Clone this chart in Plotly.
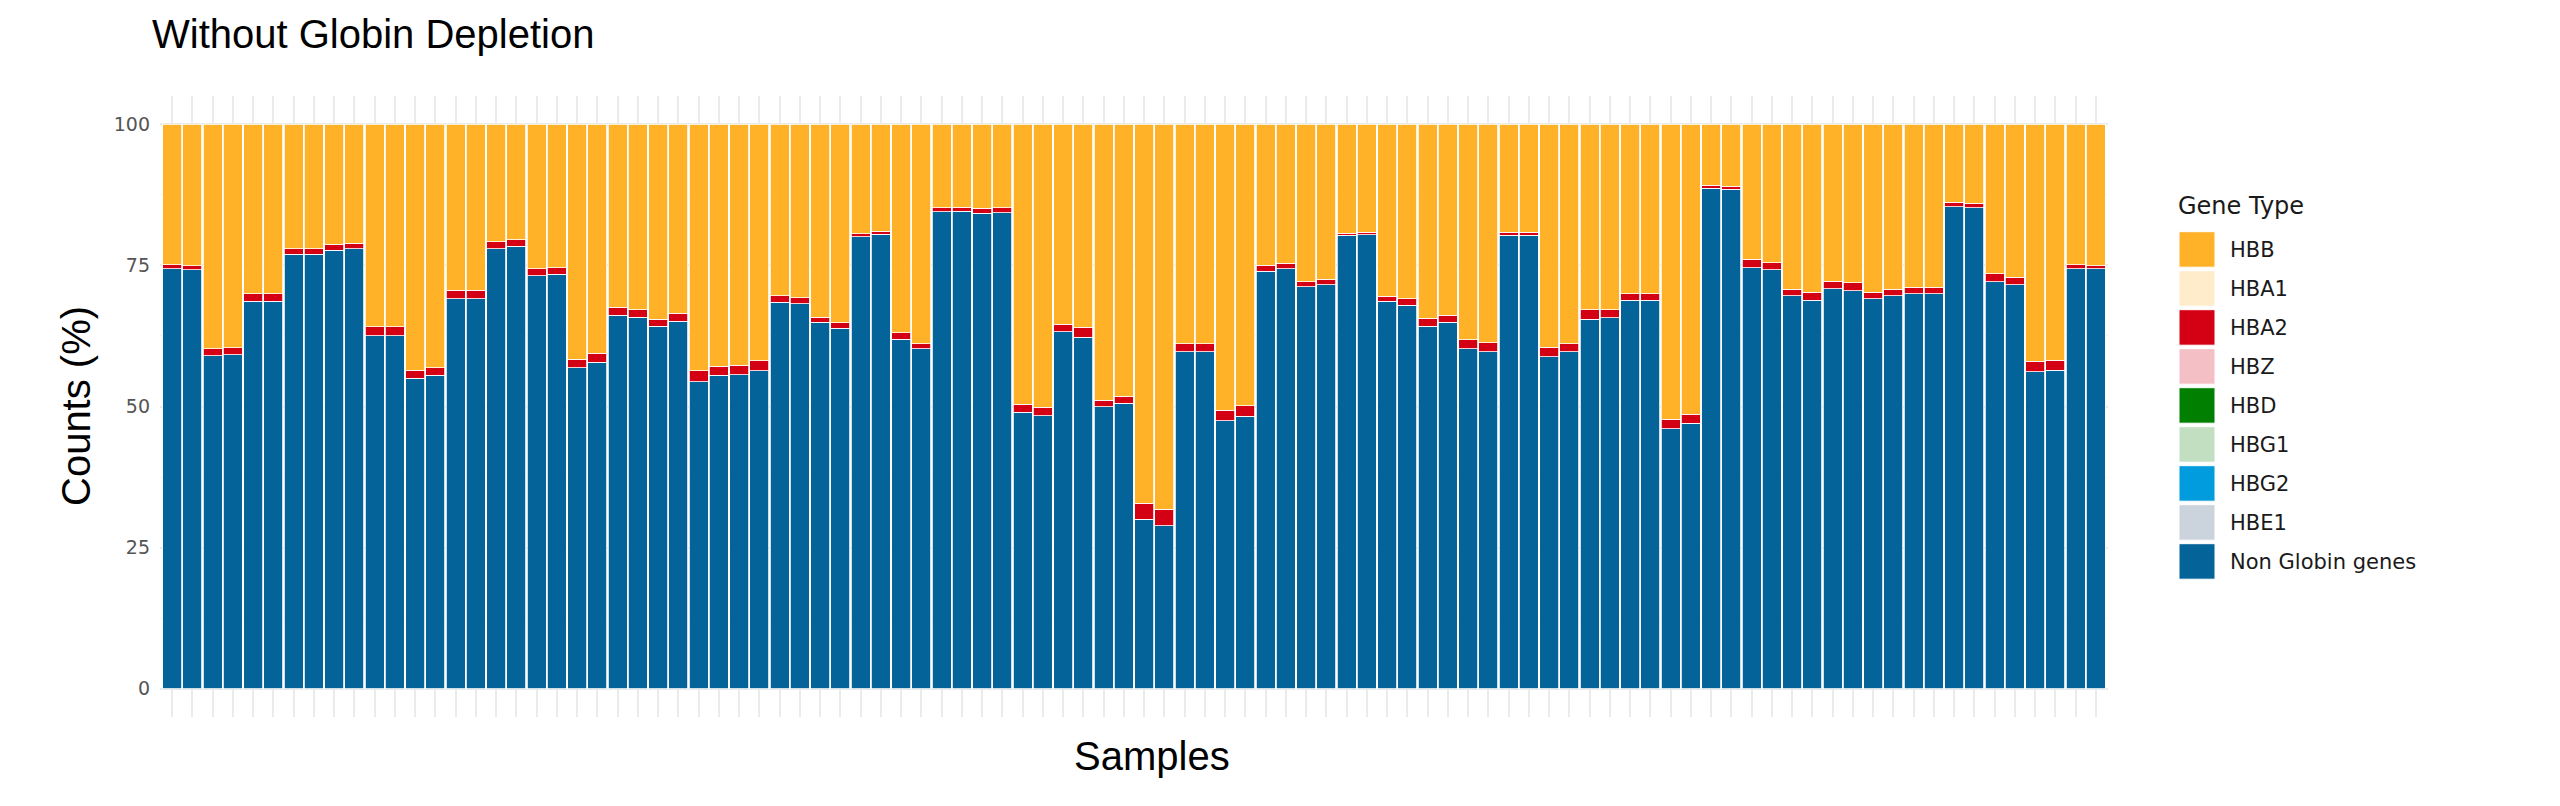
import plotly.graph_objects as go

# ---------------- data ----------------
samples = list(range(1, 97))

non_globin = [
    74.4, 74.2, 59.0, 59.2, 68.6, 68.6, 77.0, 77.0, 77.7, 77.9,
    62.5, 62.5, 55.0, 55.5, 69.1, 69.1, 77.9, 78.4, 73.2, 73.4,
    56.9, 57.8, 66.2, 65.8, 64.2, 65.1, 54.4, 55.5, 55.6, 56.3,
    68.5, 68.2, 64.9, 63.9, 80.1, 80.5, 61.9, 60.2, 84.5, 84.6,
    84.2, 84.3, 49.0, 48.4, 63.2, 62.3, 50.0, 50.6, 30.0, 28.9,
    59.7, 59.7, 47.5, 48.3, 74.0, 74.4, 71.2, 71.6, 80.3, 80.4,
    68.6, 67.9, 64.2, 64.9, 60.2, 59.7, 80.3, 80.3, 58.8, 59.7,
    65.5, 65.7, 68.8, 68.8, 46.1, 47.0, 88.7, 88.5, 74.6, 74.2,
    69.6, 68.8, 70.9, 70.5, 69.1, 69.6, 70.0, 70.0, 85.4, 85.2,
    72.1, 71.6, 56.2, 56.4, 74.4, 74.4,
]

hba2 = [
    0.7, 0.7, 1.2, 1.2, 1.4, 1.4, 0.9, 0.9, 1.0, 1.0,
    1.6, 1.6, 1.4, 1.4, 1.5, 1.5, 1.3, 1.1, 1.2, 1.2,
    1.5, 1.6, 1.4, 1.3, 1.3, 1.4, 1.9, 1.6, 1.7, 1.8,
    1.1, 1.1, 0.9, 0.9, 0.5, 0.5, 1.2, 0.9, 0.7, 0.7,
    0.9, 0.9, 1.4, 1.5, 1.4, 1.7, 1.1, 1.2, 2.9, 2.9,
    1.4, 1.4, 1.8, 1.8, 1.0, 1.0, 0.9, 0.9, 0.4, 0.5,
    0.9, 1.2, 1.4, 1.3, 1.6, 1.6, 0.6, 0.6, 1.7, 1.4,
    1.6, 1.4, 1.2, 1.2, 1.6, 1.6, 0.5, 0.5, 1.5, 1.3,
    1.2, 1.4, 1.3, 1.4, 1.1, 1.2, 1.1, 1.1, 0.8, 0.8,
    1.4, 1.3, 1.8, 1.8, 0.7, 0.5,
]

hbb = [
    24.9, 25.1, 39.8, 39.6, 30.0, 30.0, 22.1, 22.1, 21.3, 21.1,
    35.9, 35.9, 43.6, 43.1, 29.4, 29.4, 20.8, 20.5, 25.6, 25.4,
    41.6, 40.6, 32.4, 32.9, 34.5, 33.5, 43.7, 42.9, 42.7, 41.9,
    30.4, 30.7, 34.2, 35.2, 19.4, 19.0, 36.9, 38.9, 14.8, 14.7,
    14.9, 14.8, 49.6, 50.1, 35.4, 36.0, 48.9, 48.2, 67.1, 68.2,
    38.9, 38.9, 50.7, 49.9, 25.0, 24.6, 27.9, 27.5, 19.3, 19.1,
    30.5, 30.9, 34.4, 33.8, 38.2, 38.7, 19.1, 19.1, 39.5, 38.9,
    32.9, 32.9, 30.0, 30.0, 52.3, 51.4, 10.8, 11.0, 23.9, 24.5,
    29.2, 29.8, 27.8, 28.1, 29.8, 29.2, 28.9, 28.9, 13.8, 14.0,
    26.5, 27.1, 42.0, 41.8, 24.9, 25.1,
]

gene_types = ["HBB", "HBA1", "HBA2", "HBZ", "HBD", "HBG1", "HBG2", "HBE1", "Non Globin genes"]
gene_colors = ["#FFB127", "#FFECCB", "#D40014", "#F4BFC5", "#007F00",
               "#C2DFC2", "#009CDE", "#CBD3DD", "#046399"]
y_ticks = [0, 25, 50, 75, 100]

# ---------------- layout constants ----------------
OFF = 8  # page body margin of the exported html
W, H = 2560 - OFF, 806 - OFF
# plot area edges in page pixels
PL, PR, PT, PB = 160, 2108, 96, 717
L, R, T, B = PL - OFF, PR - OFF, PT - OFF, PB - OFF


def px_x(page_px):
    return (page_px - OFF - L) / (R - L)


def px_y(page_py):
    return (B - (page_py - OFF)) / (B - T)


color_of = dict(zip(gene_types, gene_colors))

fig = go.Figure()
for name, vals in [("Non Globin genes", non_globin), ("HBA2", hba2), ("HBB", hbb)]:
    fig.add_trace(go.Bar(
        x=samples, y=vals, name=name,
        marker=dict(color=color_of[name], line=dict(color="white", width=0.8)),
        showlegend=False,
    ))

# manual legend (ggplot-style large keys)
shapes = []
annotations = []
annotations.append(dict(
    text="Gene Type", xref="paper", yref="paper", x=px_x(2176), y=px_y(206),
    xanchor="left", yanchor="middle", showarrow=False,
    font=dict(family="DejaVu Sans", size=24, color="#1a1a1a"),
))
for i, (name, col) in enumerate(zip(gene_types, gene_colors)):
    top = 231.7 + 39.0 * i
    shapes.append(dict(
        type="rect", xref="paper", yref="paper",
        x0=px_x(2179), x1=px_x(2215), y0=px_y(top + 35.5), y1=px_y(top),
        fillcolor=col, line=dict(color="white", width=1), layer="above",
    ))
    annotations.append(dict(
        text=name, xref="paper", yref="paper", x=px_x(2228), y=px_y(top + 18),
        xanchor="left", yanchor="middle", showarrow=False,
        font=dict(family="DejaVu Sans", size=21, color="#1a1a1a"),
    ))

# axis titles
annotations.append(dict(
    text="Samples", xref="paper", yref="paper", x=px_x(1152), y=px_y(756),
    xanchor="center", yanchor="middle", showarrow=False,
    font=dict(family="Liberation Sans", size=40, color="black"),
))
annotations.append(dict(
    text="Counts (%)", xref="paper", yref="paper", x=px_x(76), y=px_y(406),
    xanchor="center", yanchor="middle", showarrow=False, textangle=-90,
    font=dict(family="Liberation Sans", size=40, color="black"),
))

fig.update_layout(
    width=W, height=H,
    margin=dict(l=L, r=W - R, t=T, b=H - B, pad=0),
    barmode="stack", bargap=0.06,
    plot_bgcolor="white", paper_bgcolor="white",
    title=dict(
        text="Without Globin Depletion", xref="container", yref="container",
        x=(152 - OFF) / W, xanchor="left", y=1 - (34 - OFF) / H, yanchor="middle",
        font=dict(family="Liberation Sans", size=40, color="black"),
    ),
    shapes=shapes, annotations=annotations,
    showlegend=False,
)
fig.update_xaxes(
    range=[0.4, 96.6], tickmode="array", tickvals=samples, showticklabels=False,
    ticks="", showgrid=True, gridcolor="#EBEBEB", gridwidth=1.5,
    zeroline=False, showline=False,
)
fig.update_yaxes(
    range=[-5, 105], tickmode="array", tickvals=y_ticks,
    ticktext=[str(v) for v in y_ticks], ticks="", ticklabelstandoff=9,
    tickfont=dict(family="DejaVu Sans", size=19, color="#555555"),
    showgrid=True, gridcolor="#EBEBEB", gridwidth=1.5,
    minor=dict(tickmode="array", tickvals=[12.5, 37.5, 62.5, 87.5],
               showgrid=True, gridcolor="#F2F2F2", gridwidth=1),
    zeroline=False, showline=False,
)

fig.write_html("out.html")
